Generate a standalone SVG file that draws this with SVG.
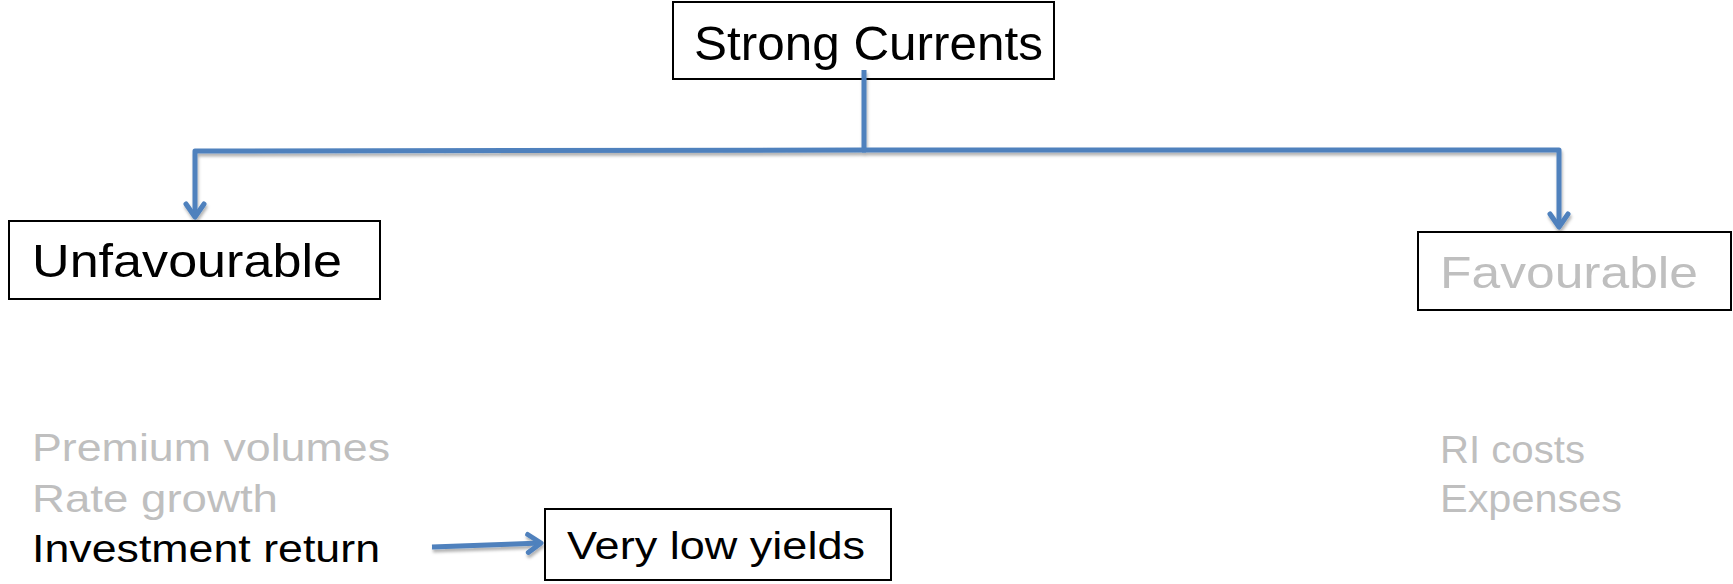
<svg xmlns="http://www.w3.org/2000/svg" width="1733" height="584" viewBox="0 0 1733 584">
<style>
.box{fill:#ffffff;stroke:#000000;stroke-width:2}
.t{font-family:"Liberation Sans",Arial,sans-serif;}
.dark{fill:#000000}
.grey{fill:#bfbfbf}
.conn{fill:none;stroke:#4f81bd;stroke-width:5;stroke-linejoin:round}
</style>
<defs>
<filter id="sh" x="-10%" y="-10%" width="120%" height="140%">
<feDropShadow dx="1" dy="3" stdDeviation="1.5" flood-color="#000000" flood-opacity="0.3"/>
</filter>
<marker id="chev" viewBox="-20 -15 30 30" markerWidth="30" markerHeight="30" refX="0" refY="0" orient="auto" markerUnits="userSpaceOnUse" overflow="visible">
<path d="M-13,-9 L0,0 L-13,9" fill="none" stroke="#4f81bd" stroke-width="5" stroke-linecap="round" stroke-linejoin="round"/>
</marker>
</defs>
<rect width="1733" height="584" fill="#ffffff"/>

<g id="node-strong-currents">
<rect class="box" x="673" y="2" width="381" height="77"/>
<text class="t dark" x="694" y="60" font-size="49" textLength="349" lengthAdjust="spacingAndGlyphs">Strong Currents</text>
</g>

<g id="connectors" filter="url(#sh)">
<path class="conn" d="M864,70 L864,150"/>
<path class="conn" d="M866,150 L195,151 L195,217" marker-end="url(#chev)"/>
<path class="conn" d="M862,150 L1559,150 L1559,227" marker-end="url(#chev)"/>
<path class="conn" d="M432,547 L541,543" marker-end="url(#chev)"/>
</g>

<g id="node-unfavourable">
<rect class="box" x="9" y="221" width="371" height="78"/>
<text class="t dark" x="32" y="277" font-size="47" textLength="310" lengthAdjust="spacingAndGlyphs">Unfavourable</text>
</g>

<g id="node-favourable">
<rect class="box" x="1418" y="232" width="313" height="78"/>
<text class="t grey" x="1440" y="288" font-size="45" textLength="258" lengthAdjust="spacingAndGlyphs">Favourable</text>
</g>

<g id="list-unfavourable">
<text class="t grey" x="32" y="461" font-size="39" textLength="358" lengthAdjust="spacingAndGlyphs">Premium volumes</text>
<text class="t grey" x="32" y="512" font-size="39" textLength="246" lengthAdjust="spacingAndGlyphs">Rate growth</text>
<text class="t dark" x="32" y="562" font-size="39" textLength="348" lengthAdjust="spacingAndGlyphs">Investment return</text>
</g>

<g id="list-favourable">
<text class="t grey" x="1440" y="463" font-size="39" textLength="145" lengthAdjust="spacingAndGlyphs">RI costs</text>
<text class="t grey" x="1440" y="512" font-size="39" textLength="182" lengthAdjust="spacingAndGlyphs">Expenses</text>
</g>

<g id="node-very-low-yields">
<rect class="box" x="545" y="509" width="346" height="71"/>
<text class="t dark" x="567" y="559" font-size="39" textLength="298" lengthAdjust="spacingAndGlyphs">Very low yields</text>
</g>
</svg>
